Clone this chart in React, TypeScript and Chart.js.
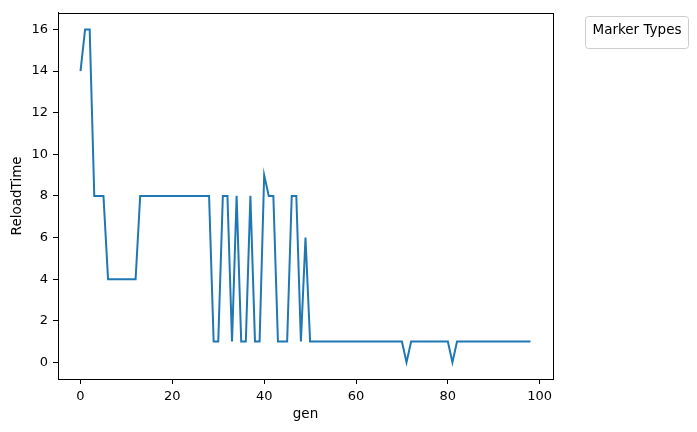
import React, { useEffect, useRef } from "react";
import { Chart, registerables } from "chart.js";

Chart.register(...registerables);

const gens: number[] = [
  0, 1, 2, 3, 4, 5, 6, 7, 8, 9, 10, 11, 12, 13, 14, 15, 16, 17, 18, 19,
  20, 21, 22, 23, 24, 25, 26, 27, 28, 29, 30, 31, 32, 33, 34, 35, 36, 37, 38, 39,
  40, 41, 42, 43, 44, 45, 46, 47, 48, 49, 50, 51, 52, 53, 54, 55, 56, 57, 58, 59,
  60, 61, 62, 63, 64, 65, 66, 67, 68, 69, 70, 71, 72, 73, 74, 75, 76, 77, 78, 79,
  80, 81, 82, 83, 84, 85, 86, 87, 88, 89, 90, 91, 92, 93, 94, 95, 96, 97, 98,
];

const reloadTime: number[] = [
  14, 16, 16, 8, 8, 8, 4, 4, 4, 4, 4, 4, 4, 8, 8, 8, 8, 8, 8, 8,
  8, 8, 8, 8, 8, 8, 8, 8, 8, 1, 1, 8, 8, 1, 8, 1, 1, 8, 1, 1,
  9, 8, 8, 1, 1, 1, 8, 8, 1, 6, 1, 1, 1, 1, 1, 1, 1, 1, 1, 1,
  1, 1, 1, 1, 1, 1, 1, 1, 1, 1, 1, 0, 1, 1, 1, 1, 1, 1, 1, 1,
  1, 0, 1, 1, 1, 1, 1, 1, 1, 1, 1, 1, 1, 1, 1, 1, 1, 1, 1,
];

const xTicks: number[] = [0, 20, 40, 60, 80, 100];
const yTicks: number[] = [0, 2, 4, 6, 8, 10, 12, 14, 16];
const xTitle = "gen";
const yTitle = "ReloadTime";
const legendTitle = "Marker Types";

const FONT = "'DejaVu Sans', sans-serif";

const framePlugin = {
  id: "frame",
  afterDraw(chart: any) {
    const { ctx, chartArea } = chart;
    ctx.save();
    ctx.strokeStyle = "#000";
    ctx.lineWidth = 1;
    ctx.strokeRect(
      Math.round(chartArea.left) + 0.5,
      Math.round(chartArea.top) + 0.5,
      Math.round(chartArea.right - chartArea.left),
      Math.round(chartArea.bottom - chartArea.top)
    );
    // legend box (title only)
    const bx = 585.5, by = 16.5, bw = 103, bh = 32, r = 3;
    ctx.beginPath();
    ctx.moveTo(bx + r, by);
    ctx.lineTo(bx + bw - r, by);
    ctx.quadraticCurveTo(bx + bw, by, bx + bw, by + r);
    ctx.lineTo(bx + bw, by + bh - r);
    ctx.quadraticCurveTo(bx + bw, by + bh, bx + bw - r, by + bh);
    ctx.lineTo(bx + r, by + bh);
    ctx.quadraticCurveTo(bx, by + bh, bx, by + bh - r);
    ctx.lineTo(bx, by + r);
    ctx.quadraticCurveTo(bx, by, bx + r, by);
    ctx.closePath();
    ctx.fillStyle = "rgba(255,255,255,0.8)";
    ctx.fill();
    ctx.strokeStyle = "#cccccc";
    ctx.stroke();
    ctx.fillStyle = "#000";
    ctx.font = `13.5px ${FONT}`;
    ctx.textAlign = "center";
    ctx.textBaseline = "alphabetic";
    ctx.fillText(legendTitle, bx + bw / 2, 34);
    ctx.restore();
  },
};

export default function App() {
  const ref = useRef<HTMLCanvasElement | null>(null);

  useEffect(() => {
    if (!ref.current) return;
    const points = gens.map((g, i) => ({ x: g, y: reloadTime[i] }));
    const chart = new Chart(ref.current, {
      type: "line",
      data: {
        datasets: [
          {
            label: yTitle,
            data: points,
            borderColor: "#1f77b4",
            borderWidth: 2,
            pointRadius: 0,
            tension: 0,
            fill: false,
          },
        ],
      },
      options: {
        responsive: false,
        animation: false,
        layout: { padding: { left: 0, top: 10, right: 144, bottom: 0 } },
        plugins: {
          legend: { display: false },
          tooltip: { enabled: false },
        },
        scales: {
          x: {
            type: "linear",
            min: -4.9,
            max: 102.9,
            afterBuildTicks: (scale: any) => {
              scale.ticks = xTicks.map((v) => ({ value: v }));
            },
            afterFit: (scale: any) => {
              scale.height = 53;
            },
            ticks: {
              color: "#000",
              font: { family: FONT, size: 13 },
              padding: 5,
              maxRotation: 0,
              autoSkip: false,
            },
            grid: {
              display: true,
              drawOnChartArea: false,
              drawTicks: true,
              tickLength: 5,
              color: "#000",
            },
            border: { display: true, color: "#000" },
            title: {
              display: true,
              text: xTitle,
              color: "#000",
              font: { family: FONT, size: 13.5 },
              padding: { top: 0, bottom: 9 },
            },
          },
          y: {
            type: "linear",
            min: -0.8,
            max: 16.8,
            afterBuildTicks: (scale: any) => {
              scale.ticks = yTicks.map((v) => ({ value: v }));
            },
            afterFit: (scale: any) => {
              scale.width = 58;
            },
            ticks: {
              color: "#000",
              font: { family: FONT, size: 13 },
              padding: 5,
              autoSkip: false,
            },
            grid: {
              display: true,
              drawOnChartArea: false,
              drawTicks: true,
              tickLength: 5,
              color: "#000",
            },
            border: { display: true, color: "#000" },
            title: {
              display: true,
              text: yTitle,
              color: "#000",
              font: { family: FONT, size: 13.5 },
              padding: { top: 9, bottom: 0 },
            },
          },
        },
      },
      plugins: [framePlugin],
    });
    return () => chart.destroy();
  }, []);

  return (
    <div style={{ position: "absolute", left: 0, top: 0, width: 697, height: 432, background: "#fff" }}>
      <canvas ref={ref} width={697} height={432} style={{ display: "block" }} />
    </div>
  );
}
